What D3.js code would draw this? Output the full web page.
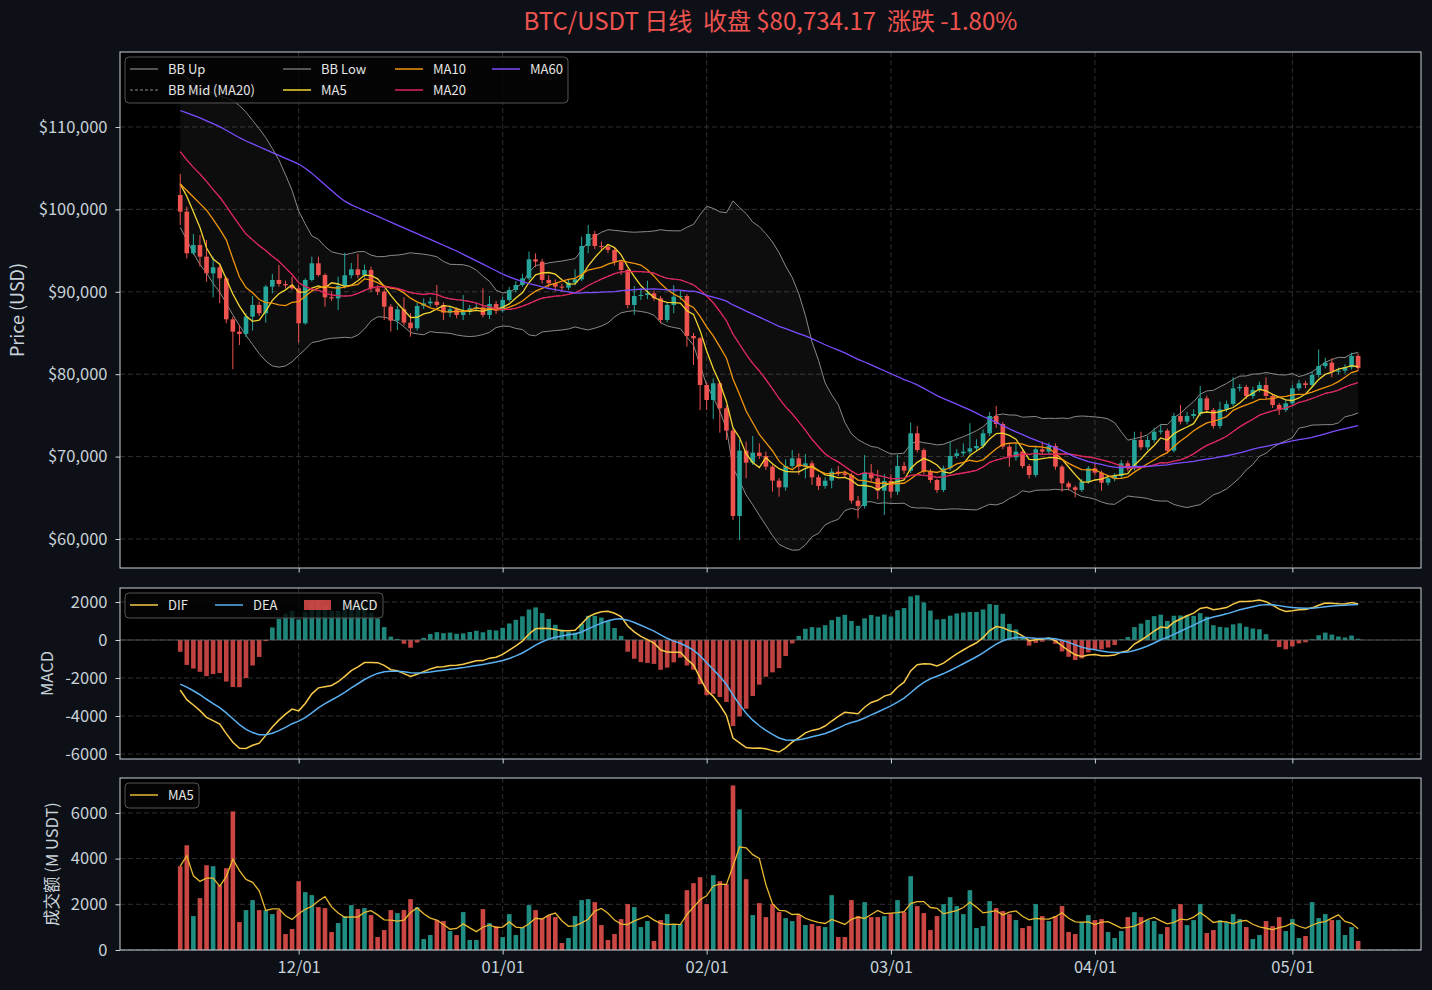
<!DOCTYPE html>
<html>
<head>
<meta charset="utf-8">
<script src="https://cdn.jsdelivr.net/npm/d3@7"></script>
<style>
  body { margin: 0; background: #0d1117; }
  text { font-family: "Noto Sans CJK SC", "Noto Sans", sans-serif; }
</style>
</head>
<body>
<script>
// ---- data ----
const startDate = new Date(2025, 10, 13);

const openP = [
  101750, 99725, 94670, 95680, 94265, 92240, 92970, 91635, 86660, 85165,
  84880, 86985, 88400, 87390, 90625, 91435, 90950, 90785, 90420, 86175,
  91435, 93455, 92040, 89330, 89200, 90705, 92000, 92730, 92040, 92650,
  90420, 90015, 88195, 86500, 87875, 86255, 85570, 88280, 88600, 88805,
  88400, 87470, 87875, 87185, 87590, 87995, 88115, 87185, 88520, 87710,
  89005, 90220, 90825, 91635, 93940, 93660, 91435, 91030, 90625, 90505,
  91110, 91515, 95560, 97015, 95560, 95480, 95075, 93660, 92645, 88400,
  89490, 89615, 89815, 89210, 86580, 88400, 89410, 89490, 84640, 84355,
  78690, 76870, 78895, 75860, 73150, 62795, 70725, 69265, 70480, 70075,
  68780, 67080, 66270, 68860, 69790, 68780, 69185, 67485, 66435, 67080,
  68170, 67970, 67770, 64655, 64005, 68050, 67365, 65865, 67040, 65745,
  68860, 68295, 72825, 70800, 68170, 67160, 65950, 68575, 70075, 70400,
  70600, 71005, 71285, 72825, 74925, 73955, 71205, 69910, 70600, 68860,
  67770, 70885, 70600, 71285, 68780, 66755, 66270, 65950, 66960, 68575,
  68050, 66835, 67365, 67645, 69185, 68575, 72015, 71125, 72015, 73025,
  73150, 70720, 74930, 74240, 74930, 75170, 77070, 75655, 73715, 75735,
  76385, 78285, 78450, 77355, 78085, 78690, 77355, 76265, 75655, 76465,
  78285, 78895, 78690, 79905, 80995, 81400, 80310, 80430, 80835, 82214.17
];
const highP = [
  104300, 100330, 97015, 96890, 96290, 94265, 93455, 91840, 87000, 85970,
  87390, 89490, 88800, 90825, 92160, 93250, 91350, 91840, 90800, 91640,
  94265, 94265, 92240, 90015, 91840, 94750, 93500, 94590, 93300, 93050,
  90800, 90300, 88500, 88280, 89330, 87390, 88700, 89200, 89300, 90825,
  88700, 88300, 88100, 89610, 88400, 88500, 90420, 89490, 88900, 89400,
  90600, 91300, 92200, 94870, 94670, 94000, 92000, 91500, 91000, 91500,
  92730, 96690, 98110, 97400, 96085, 95800, 95300, 93900, 92800, 90705,
  90420, 91350, 90140, 89500, 88700, 90825, 90200, 89700, 85000, 84500,
  79000, 79500, 79100, 76200, 73400, 72020, 71815, 72500, 71610, 70600,
  69000, 67400, 69670, 70800, 70400, 70315, 69500, 67800, 67500, 68580,
  68860, 68300, 68000, 65220, 70195, 69100, 68375, 67890, 67890, 70195,
  69385, 74120, 73715, 71000, 68500, 67300, 68900, 71815, 70900, 71610,
  74040, 72100, 73300, 75400, 76140, 74200, 71500, 71610, 70900, 69100,
  71200, 71815, 71700, 71600, 69000, 67000, 66500, 67300, 68860, 69185,
  68300, 67700, 68000, 69600, 69500, 73025, 73025, 72500, 73500, 73835,
  73400, 75300, 76265, 75400, 75740, 78570, 77400, 75900, 76670, 76800,
  79620, 78810, 78700, 78500, 79100, 79620, 77600, 76500, 76900, 78700,
  79300, 79200, 80300, 83000, 82000, 81925, 80800, 81200, 82600, 82500
];
const lowP = [
  98110, 94060, 94470, 93050, 91230, 89330, 88600, 86175, 80600, 83545,
  84500, 85285, 87065, 86255, 89815, 90625, 90420, 90220, 83830, 86000,
  91230, 91840, 88200, 88900, 87790, 90400, 91600, 91635, 91700, 90015,
  89600, 86580, 85165, 85365, 85900, 84555, 85300, 87900, 88200, 88100,
  86580, 86900, 86800, 86580, 87200, 87700, 86900, 86700, 87300, 87500,
  88800, 89900, 90600, 91400, 93000, 91000, 90500, 90100, 90000, 90200,
  90800, 91300, 94670, 95200, 95075, 94700, 93200, 92040, 87995, 87185,
  89000, 89100, 88900, 86175, 86300, 87390, 89000, 83345, 81120, 75660,
  75660, 74565, 72905, 72020, 62310, 59880, 67365, 69000, 69700, 68375,
  65745, 65140, 65865, 68600, 67770, 67365, 66555, 65950, 66100, 66150,
  67600, 67400, 64300, 62510, 63700, 66960, 64815, 62915, 64935, 65340,
  67900, 68000, 70500, 67900, 66800, 65600, 65700, 68300, 69800, 70100,
  70300, 70700, 71000, 72500, 73500, 70900, 68780, 69500, 68580, 67365,
  67500, 70300, 70300, 68400, 65745, 65900, 65060, 65700, 66700, 67700,
  65865, 66500, 67000, 67400, 68200, 68300, 70800, 70800, 71700, 72700,
  70400, 70500, 73900, 73900, 74600, 74900, 75300, 73400, 73400, 75400,
  76100, 77900, 77000, 77000, 77800, 77000, 75900, 75050, 75400, 76200,
  78000, 78300, 78400, 79600, 80700, 79620, 80000, 80100, 80600, 80400
];
const closeP = [
  99725, 94670, 95680, 94265, 92240, 92970, 91635, 86660, 85165, 84880,
  86985, 88400, 87390, 90625, 91435, 90950, 90785, 90420, 86175, 91435,
  93455, 92040, 89330, 89200, 90705, 92000, 92730, 92040, 92650, 90420,
  90015, 88195, 86500, 87875, 86255, 85570, 88280, 88600, 88805, 88400,
  87470, 87875, 87185, 87590, 87995, 88115, 87185, 88520, 87710, 89005,
  90220, 90825, 91635, 93940, 93660, 91435, 91030, 90625, 90505, 91110,
  91515, 95560, 97015, 95560, 95480, 95075, 93660, 92645, 88400, 89490,
  89615, 89815, 89210, 86580, 88400, 89410, 89490, 84640, 84355, 78690,
  76870, 78895, 75860, 73150, 62795, 70725, 69265, 70480, 70075, 68780,
  67080, 66270, 68860, 69790, 68780, 69185, 67485, 66435, 67080, 68170,
  67970, 67770, 64655, 64005, 68050, 67365, 65865, 67040, 65745, 68860,
  68295, 72825, 70800, 68170, 67160, 65950, 68575, 70075, 70400, 70600,
  71005, 71285, 72825, 74925, 73955, 71205, 69910, 70600, 68860, 67770,
  70885, 70600, 71285, 68780, 66755, 66270, 65950, 66960, 68575, 68050,
  66835, 67365, 67645, 69185, 68575, 72015, 71125, 72015, 73025, 73150,
  70720, 74930, 74240, 74930, 75170, 77070, 75655, 73715, 75735, 76385,
  78285, 78450, 77355, 78085, 78690, 77355, 76265, 75655, 76465, 78285,
  78895, 78690, 79905, 80995, 81400, 80310, 80430, 80835, 82214.17, 80734.17
];
const volume = [
  3667, 4583, 1484, 2270, 3710, 3667, 2837, 3579, 6067, 1222,
  1746, 2183, 1746, 1746, 1571, 1746, 698, 917, 3012, 2532,
  2401, 1877, 1833, 786, 1179, 1484, 1964, 1790, 1833, 1528,
  567, 873, 1746, 1615, 1746, 2226, 1877, 480, 655, 1310,
  1266, 829, 655, 1659, 437, 437, 1790, 1179, 1048, 567,
  1571, 655, 1004, 1964, 1746, 1397, 1528, 1440, 306, 524,
  1484, 2183, 2226, 2095, 1091, 437, 698, 1353, 2008, 1877,
  1004, 1266, 393, 1310, 1571, 1135, 1135, 2619, 2925, 3186,
  2008, 3274, 3012, 2881, 7202, 6155, 3099, 1528, 2052, 1440,
  2008, 1659, 1397, 1266, 1528, 1091, 1135, 1048, 1004, 2401,
  567, 567, 2183, 1484, 2095, 1440, 1440, 1484, 1615, 2183,
  1659, 3230, 1921, 1615, 873, 1484, 2008, 2313, 1921, 1571,
  2619, 960, 1048, 2139, 1833, 1702, 1571, 1310, 960, 1048,
  2008, 1484, 1266, 1484, 1921, 786, 698, 1222, 1528, 1310,
  1353, 786, 524, 829, 1440, 1659, 1440, 1310, 1266, 698,
  1004, 1790, 2008, 1091, 1310, 2008, 742, 873, 1310, 1222,
  1571, 1353, 1004, 480, 655, 1266, 1048, 1440, 829, 1353,
  524, 611, 2095, 1397, 1571, 1310, 1310, 655, 1004, 393
];

// indicator values before a full window exists (history lies left of the chart)
const ma5Head = [103100, 101600, 99700, 97800];
const ma10Head = [103100, 102300, 101500, 100700, 99900, 98800, 97600, 96300, 94000];
const ma20Head = [107000, 106000, 105100, 104300, 103400, 102400, 101500, 100400, 99200, 98100,
                  97000, 96300, 95600, 95000, 94300, 93700, 92900, 92100, 91100];
const bbUpHead = [116600, 116000, 115300, 114800, 114400, 114100, 113800, 113500, 113200, 112600,
                  111800, 110800, 109800, 108700, 107400, 106000, 104200, 102300, 99800];
const bbLowHead = [97800, 96300, 94700, 93300, 92300, 91000, 89950, 88600, 87200, 85900,
                   84700, 83600, 82500, 81600, 81000, 80850, 81000, 81500, 82300];
const ma60Head = [112000, 111700, 111400, 111100, 110750, 110400, 110050, 109600, 109150, 108700,
                  108300, 107950, 107600, 107250, 106900, 106550, 106200, 105850, 105500, 105000,
                  104400, 103700, 103000, 102300, 101600, 101000, 100550, 100200, 99850, 99500,
                  99150, 98800, 98450, 98100, 97750, 97400, 97050, 96700, 96350, 96000,
                  95650, 95300, 94950, 94550, 94150, 93750, 93350, 92950, 92550, 92150,
                  91800, 91500, 91250, 91000, 90800, 90600, 90400, 90250, 90100];
const volMa5Head = [3667, 4125, 3245, 3000];
const macdSeed = { ema12: 103500, ema26: 106130, dea: -2320 };

const priceTicks = [60000, 70000, 80000, 90000, 100000, 110000];
const macdTicks = [-6000, -4000, -2000, 0, 2000];
const volTicks = [0, 2000, 4000, 6000];
const monthTicks = [new Date(2025, 11, 1), new Date(2026, 0, 1), new Date(2026, 1, 1),
                    new Date(2026, 2, 1), new Date(2026, 3, 1), new Date(2026, 4, 1)];

// ---- indicators ----
function rolling(arr, n, head) {
  return arr.map((v, i) => i < n - 1 ? head[i] : d3.mean(arr.slice(i - n + 1, i + 1)));
}
const ma5 = rolling(closeP, 5, ma5Head);
const ma10 = rolling(closeP, 10, ma10Head);
const ma20 = rolling(closeP, 20, ma20Head);
const ma60 = rolling(closeP, 60, ma60Head);
const volMa5 = rolling(volume, 5, volMa5Head);
const bbUp = closeP.map((v, i) => i < 19 ? bbUpHead[i] : ma20[i] + 2 * d3.deviation(closeP.slice(i - 19, i + 1)));
const bbLow = closeP.map((v, i) => i < 19 ? bbLowHead[i] : ma20[i] - 2 * d3.deviation(closeP.slice(i - 19, i + 1)));

let e12 = macdSeed.ema12, e26 = macdSeed.ema26, dea = macdSeed.dea;
const dif = [], deaLine = [], hist = [];
closeP.forEach((c, i) => {
  if (i > 0) { e12 += (c - e12) * 2 / 13; e26 += (c - e26) * 2 / 27; }
  const d = e12 - e26;
  if (i > 0) dea += (d - dea) * 0.2;
  dif.push(d); deaLine.push(dea); hist.push(2 * (d - dea));
});

// ---- layout ----
const W = 1432, H = 990, L = 120, R = 1421;
const UP = "#26a69a", DOWN = "#ef5350", TXT = "#c9d1d9";
const dates = d3.range(closeP.length).map(i => d3.timeDay.offset(startDate, i));
const DAY = 864e5;

const svg = d3.select("body").append("svg")
    .attr("width", W)
    .attr("height", H)
    .style("background", "#0d1117");

const x = d3.scaleTime()
    .domain([new Date(+dates[0] - 9.15 * DAY), new Date(+dates[dates.length - 1] + 9.55 * DAY)])
    .range([L, R]);
const bw = x(new Date(+dates[0] + 0.7 * DAY)) - x(dates[0]);

const yP = d3.scaleLinear().domain([56480, 119100]).range([568, 52]);
const yM = d3.scaleLinear().domain([-6263, 2737]).range([759, 588]);
const yV = d3.scaleLinear().domain([0, 7528]).range([950, 778]);

function panel(name, y, ticks, fmt, label, labelX, labelSize) {
  const [bottom, top] = y.range();
  svg.append("rect").attr("x", L).attr("y", top).attr("width", R - L).attr("height", bottom - top)
      .attr("fill", "#000");
  svg.append("clipPath").attr("id", "clip-" + name)
    .append("rect").attr("x", L).attr("y", top).attr("width", R - L).attr("height", bottom - top);
  const grid = svg.append("g").attr("stroke", "#3c3c3c").attr("stroke-dasharray", "5,3").attr("stroke-width", 0.8);
  ticks.forEach(t => grid.append("line").attr("x1", L).attr("x2", R).attr("y1", y(t)).attr("y2", y(t)));
  monthTicks.forEach(t => grid.append("line").attr("x1", x(t)).attr("x2", x(t)).attr("y1", top).attr("y2", bottom));
  const g = svg.append("g").attr("clip-path", "url(#clip-" + name + ")");
  svg.append("text")
      .attr("transform", `translate(${labelX},${(top + bottom) / 2}) rotate(-90)`)
      .attr("text-anchor", "middle")
      .attr("fill", TXT)
      .style("font-size", labelSize + "px")
      .text(label);
  return { g, top, bottom, ticks, fmt, y };
}

function finishPanel(p, showDates) {
  svg.append("rect").attr("x", L).attr("y", p.top).attr("width", R - L).attr("height", p.bottom - p.top)
      .attr("fill", "none").attr("stroke", TXT).attr("stroke-width", 1);
  const ay = svg.append("g").attr("transform", `translate(${L},0)`)
      .call(d3.axisLeft(p.y).tickValues(p.ticks).tickFormat(p.fmt).tickSize(4.5).tickPadding(8));
  ay.select(".domain").remove();
  ay.selectAll("line").attr("stroke", TXT);
  ay.selectAll("text").attr("fill", TXT).style("font-size", "16.5px");
  const ax = svg.append("g").attr("transform", `translate(0,${p.bottom})`)
      .call(d3.axisBottom(x).tickValues(monthTicks).tickFormat(showDates ? d3.timeFormat("%m/%d") : "").tickSize(4.5).tickPadding(7));
  ax.select(".domain").remove();
  ax.selectAll("line").attr("stroke", TXT);
  ax.selectAll("text").attr("fill", TXT).style("font-size", "16.5px");
}

function lineOf(y) {
  return d3.line().x((d, i) => x(dates[i])).y(d => y(d));
}

// ---- price panel ----
const pp = panel("price", yP, priceTicks, d => "$" + d3.format(",")(d), "Price (USD)", 24, 18);

pp.g.append("path")
    .datum(closeP)
    .attr("d", d3.area().x((d, i) => x(dates[i])).y0((d, i) => yP(bbLow[i])).y1((d, i) => yP(bbUp[i])))
    .attr("fill", "#ffffff").attr("fill-opacity", 0.05);
pp.g.append("path").datum(bbUp).attr("d", lineOf(yP)).attr("fill", "none").attr("stroke", "#8a8a8a").attr("stroke-width", 1);
pp.g.append("path").datum(bbLow).attr("d", lineOf(yP)).attr("fill", "none").attr("stroke", "#8a8a8a").attr("stroke-width", 1);
pp.g.append("path").datum(ma20).attr("d", lineOf(yP)).attr("fill", "none").attr("stroke", "#8a8a8a")
    .attr("stroke-width", 0.8).attr("stroke-dasharray", "3,2");

const candles = pp.g.append("g");
candles.selectAll("line")
  .data(closeP)
  .join("line")
    .attr("x1", (d, i) => x(dates[i]))
    .attr("x2", (d, i) => x(dates[i]))
    .attr("y1", (d, i) => yP(highP[i]))
    .attr("y2", (d, i) => yP(lowP[i]))
    .attr("stroke", (d, i) => d >= openP[i] ? UP : DOWN)
    .attr("stroke-width", 1);
candles.selectAll("rect")
  .data(closeP)
  .join("rect")
    .attr("x", (d, i) => x(dates[i]) - bw / 2)
    .attr("width", bw)
    .attr("y", (d, i) => yP(Math.max(d, openP[i])))
    .attr("height", (d, i) => Math.max(1, Math.abs(yP(d) - yP(openP[i]))))
    .attr("fill", (d, i) => d >= openP[i] ? UP : DOWN);

const maLines = [
  { data: ma5, color: "#f2d431" },
  { data: ma10, color: "#f0950c" },
  { data: ma20, color: "#e0245e" },
  { data: ma60, color: "#7c4dff" }
];
maLines.forEach(m => {
  pp.g.append("path").datum(m.data).attr("d", lineOf(yP))
      .attr("fill", "none").attr("stroke", m.color).attr("stroke-width", 1.3);
});
finishPanel(pp, false);

// ---- MACD panel ----
const mp = panel("macd", yM, macdTicks, d => String(d), "MACD", 53, 16.5);
mp.g.selectAll("rect")
  .data(hist)
  .join("rect")
    .attr("x", (d, i) => x(dates[i]) - bw / 2)
    .attr("width", bw)
    .attr("y", d => yM(Math.max(d, 0)))
    .attr("height", d => Math.abs(yM(d) - yM(0)))
    .attr("fill", d => d >= 0 ? UP : DOWN)
    .attr("fill-opacity", 0.8);
mp.g.append("line").attr("x1", L).attr("x2", R).attr("y1", yM(0)).attr("y2", yM(0))
    .attr("stroke", "#666").attr("stroke-width", 0.8);
mp.g.append("path").datum(dif).attr("d", lineOf(yM)).attr("fill", "none").attr("stroke", "#f7c948").attr("stroke-width", 1.5);
mp.g.append("path").datum(deaLine).attr("d", lineOf(yM)).attr("fill", "none").attr("stroke", "#5ab0f0").attr("stroke-width", 1.5);
finishPanel(mp, false);

// ---- volume panel ----
const vp = panel("vol", yV, volTicks, d => String(d), "成交额 (M USDT)", 58, 16.5);
vp.g.selectAll("rect")
  .data(volume)
  .join("rect")
    .attr("x", (d, i) => x(dates[i]) - bw / 2)
    .attr("width", bw)
    .attr("y", d => yV(d))
    .attr("height", d => yV(0) - yV(d))
    .attr("fill", (d, i) => closeP[i] >= openP[i] ? UP : DOWN)
    .attr("fill-opacity", 0.85);
vp.g.append("path").datum(volMa5).attr("d", lineOf(yV)).attr("fill", "none").attr("stroke", "#e8b830").attr("stroke-width", 1.3);
finishPanel(vp, true);

// ---- legends ----
function legendBox(x0, y0, w, h) {
  svg.append("rect").attr("x", x0).attr("y", y0).attr("width", w).attr("height", h).attr("rx", 4)
      .attr("fill", "#050505").attr("fill-opacity", 0.8).attr("stroke", "#555").attr("stroke-width", 1);
}
function legendLine(x0, y0, label, color, dash, width) {
  svg.append("line").attr("x1", x0).attr("x2", x0 + 28).attr("y1", y0).attr("y2", y0)
      .attr("stroke", color).attr("stroke-width", width || 1.5).attr("stroke-dasharray", dash || null);
  svg.append("text").attr("x", x0 + 38).attr("y", y0 + 4.5).attr("fill", "#e6e6e6")
      .style("font-size", "13px").text(label);
}

legendBox(125, 57, 443, 46);
legendLine(130, 69, "BB Up", "#8a8a8a", null, 1.2);
legendLine(130, 90, "BB Mid (MA20)", "#8a8a8a", "3,2", 1);
legendLine(283, 69, "BB Low", "#8a8a8a", null, 1.2);
legendLine(283, 90, "MA5", "#f2d431");
legendLine(395, 69, "MA10", "#f0950c");
legendLine(395, 90, "MA20", "#e0245e");
legendLine(492, 69, "MA60", "#7c4dff");

legendBox(125, 593, 258, 25);
legendLine(130, 605, "DIF", "#f7c948");
legendLine(215, 605, "DEA", "#5ab0f0");
svg.append("rect").attr("x", 304).attr("y", 600).attr("width", 27).attr("height", 10).attr("fill", DOWN).attr("fill-opacity", 0.8);
svg.append("text").attr("x", 342).attr("y", 609.5).attr("fill", "#e6e6e6").style("font-size", "13px").text("MACD");

legendBox(125, 783, 74, 25);
legendLine(130, 795, "MA5", "#e8b830");

// ---- title ----
svg.append("text")
    .attr("x", (L + R) / 2)
    .attr("y", 30)
    .attr("text-anchor", "middle")
    .attr("fill", "#ef5350")
    .style("font-size", "24px")
    .text("BTC/USDT 日线\u00a0\u00a0收盘 $80,734.17\u00a0\u00a0涨跌 -1.80%");
</script>
</body>
</html>
